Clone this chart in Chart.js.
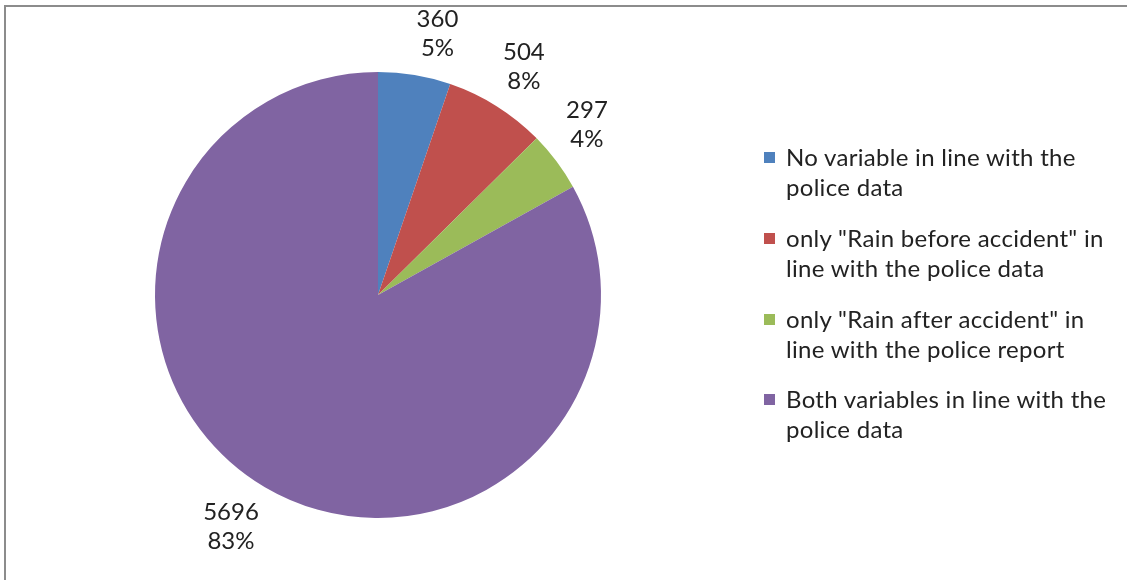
<!DOCTYPE html>
<html>
<head>
<meta charset="utf-8">
<script src="https://cdn.jsdelivr.net/npm/chart.js@4"></script>
<style>
  html, body { margin: 0; padding: 0; background: #fff; overflow: hidden; }
  #wrap { position: relative; width: 1127px; height: 580px; }
  #frame { position: absolute; left: 4px; top: 5px; width: 1200px; height: 700px;
           border-left: 2px solid #8c8c8c; border-top: 2px solid #8c8c8c; }
  #chart { position: absolute; left: 0; top: 0; }
  #legend { position: absolute; left: 764px; top: 142px; font-family: Lato, "Open Sans", sans-serif;
            font-size: 24px; letter-spacing: 0.3px; line-height: 30px; color: #222; }
  .item { position: relative; padding-left: 22px; height: 60px; margin-bottom: 20.8px; }
  .box { position: absolute; left: 0; top: 10px; width: 11px; height: 11px; }
</style>
</head>
<body>
<div id="wrap">
  <div id="frame"></div>
  <canvas id="chart" width="1127" height="580"></canvas>
  <div id="legend"></div>
</div>
<script>
// categories and values
const categories = [
  ['No variable in line with the', 'police data'],
  ['only "Rain before accident" in', 'line with the police data'],
  ['only "Rain after accident" in', 'line with the police report'],
  ['Both variables in line with the', 'police data']
];
const counts = [360, 504, 297, 5696];
const percents = ['5%', '8%', '4%', '83%'];
const colors = ['#4F81BD', '#C0504D', '#9BBB59', '#8064A2'];

// build html legend
const legendEl = document.getElementById('legend');
categories.forEach((lines, i) => {
  const item = document.createElement('div');
  item.className = 'item';
  const box = document.createElement('div');
  box.className = 'box';
  box.style.background = colors[i];
  item.appendChild(box);
  lines.forEach(t => {
    const d = document.createElement('div');
    d.textContent = t;
    item.appendChild(d);
  });
  legendEl.appendChild(item);
});

// outside-end data labels like Excel: box corner sits just off the arc
const outsideLabels = {
  id: 'outsideLabels',
  afterDatasetsDraw(chart) {
    const ctx = chart.ctx;
    const meta = chart.getDatasetMeta(0);
    ctx.save();
    ctx.font = '24px Lato, "Open Sans", sans-serif';
    ctx.fillStyle = '#222';
    ctx.textAlign = 'center';
    ctx.textBaseline = 'middle';
    const lineH = 29;
    meta.data.forEach((arc, i) => {
      const p = arc.getProps(['x', 'y', 'startAngle', 'endAngle', 'outerRadius'], true);
      const mid = (p.startAngle + p.endAngle) / 2;
      const lines = [String(counts[i]), percents[i]];
      const w = Math.max(...lines.map(t => ctx.measureText(t).width));
      const h = lineH * lines.length;
      const r = p.outerRadius + 12;
      const cx = p.x + Math.cos(mid) * r + Math.sign(Math.cos(mid)) * w / 2;
      const cy = p.y + Math.sin(mid) * r + Math.sign(Math.sin(mid)) * h / 2;
      lines.forEach((t, k) => {
        ctx.fillText(t, cx, cy - h / 2 + lineH * (k + 0.5));
      });
    });
    ctx.restore();
  }
};

new Chart(document.getElementById('chart'), {
  type: 'pie',
  data: {
    labels: categories.map(l => l.join(' ')),
    datasets: [{
      data: counts,
      backgroundColor: colors,
      borderWidth: 0
    }]
  },
  options: {
    responsive: false,
    animation: false,
    layout: { padding: { left: 155, right: 526, top: 72, bottom: 62 } },
    plugins: {
      legend: { display: false },
      tooltip: { enabled: false }
    }
  },
  plugins: [outsideLabels]
});
</script>
</body>
</html>
